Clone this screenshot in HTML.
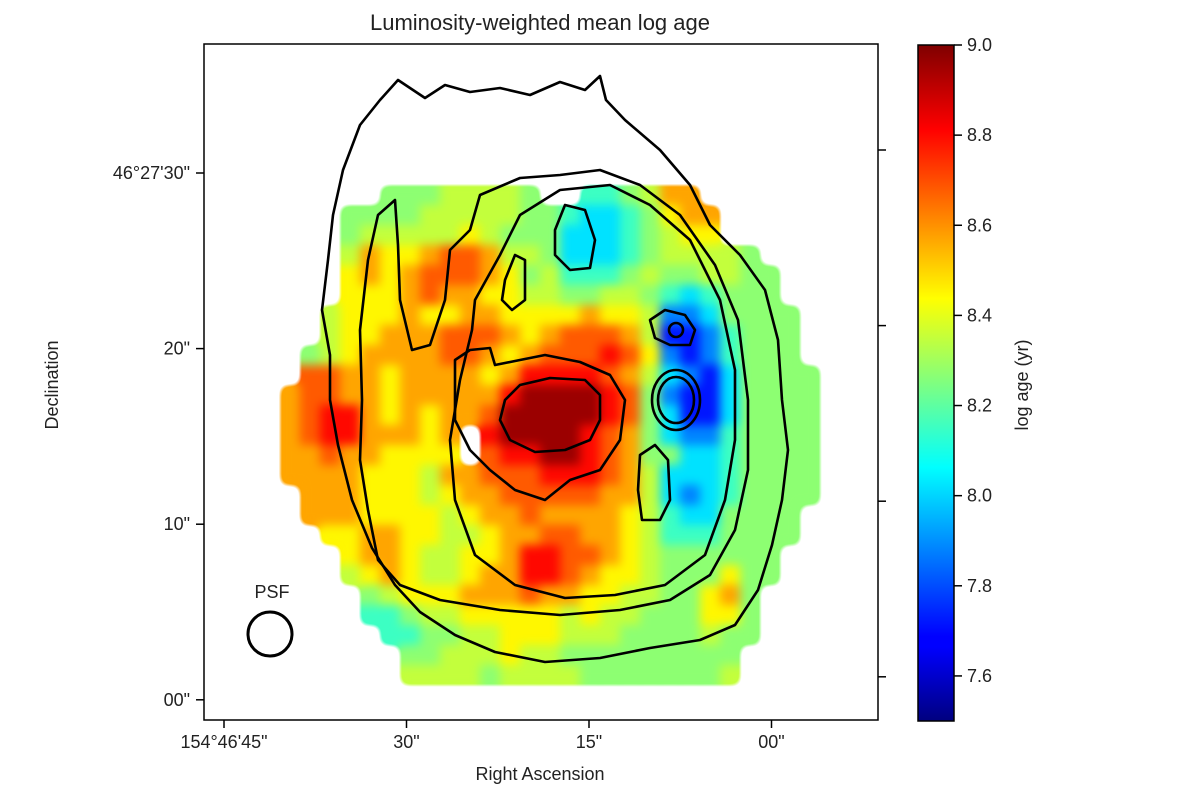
<!DOCTYPE html>
<html><head><meta charset="utf-8"><style>
html,body{margin:0;padding:0;background:#fff;}
svg text{font-family:"Liberation Sans",sans-serif;fill:#222;}
</style></head><body>
<svg id="chart" width="1200" height="799" viewBox="0 0 1200 799" xmlns="http://www.w3.org/2000/svg">
<defs>
<linearGradient id="jet" x1="0" y1="1" x2="0" y2="0">
<stop offset="0" stop-color="#00007f"/><stop offset="0.11" stop-color="#0000ff"/><stop offset="0.125" stop-color="#0000ff"/>
<stop offset="0.375" stop-color="#00ffff"/><stop offset="0.625" stop-color="#ffff00"/><stop offset="0.875" stop-color="#ff0000"/><stop offset="1" stop-color="#7f0000"/>
</linearGradient>
<filter id="smooth" x="-5%" y="-5%" width="110%" height="110%" color-interpolation-filters="sRGB">
<feGaussianBlur stdDeviation="5"/>
<feComponentTransfer><feFuncA type="linear" slope="4" intercept="-1.6"/></feComponentTransfer>
</filter>
</defs>
<g id="cells" filter="url(#smooth)"></g>
<g id="contours" fill="none" stroke="#000" stroke-width="2.6" stroke-linejoin="round">
<path d="M330,355 L322,310 L328,260 L333,215 L343,170 L360,125 L380,100 L398,80 L410,88 L425,98 L445,85 L470,92 L500,88 L530,95 L560,82 L585,90 L600,76 L606,100 L625,120 L660,150 L690,185 L710,225 L740,255 L765,290 L778,340 L782,400 L788,450 L782,500 L772,545 L758,590 L735,625 L700,640 L650,648 L600,658 L545,662 L495,652 L455,635 L420,612 L395,585 L372,548 L352,500 L338,445 L330,400 Z"/>
<path d="M368,260 L378,215 L395,200 L398,245 L400,300 L412,350 L430,345 L445,300 L450,250 L470,230 L480,195 L520,178 L560,175 L600,170 L640,185 L680,215 L715,265 L738,320 L748,400 L748,470 L735,530 L710,575 L670,600 L620,610 L560,615 L500,610 L440,600 L400,585 L378,560 L368,510 L360,460 L362,400 L360,330 Z"/>
<path d="M475,300 L500,255 L520,215 L560,190 L610,185 L650,205 L690,240 L720,300 L735,370 L735,440 L725,500 L705,555 L665,585 L615,595 L565,598 L515,585 L475,555 L455,500 L450,440 L460,380 L472,330 Z"/>
<path d="M455,360 L470,350 L490,348 L495,365 L520,360 L545,355 L580,362 L610,375 L625,400 L620,440 L600,470 L570,480 L545,500 L515,490 L490,470 L470,450 L455,420 Z"/>
<path d="M505,400 L520,385 L550,378 L585,380 L600,395 L600,420 L590,440 L565,450 L535,452 L510,440 L500,420 Z"/>
<path d="M650,320 L665,310 L685,315 L695,330 L690,345 L670,345 L655,338 Z"/>
<circle cx="676" cy="330" r="7"/>
<ellipse cx="676" cy="400" rx="24" ry="30"/>
<ellipse cx="676" cy="400" rx="18" ry="23"/>
<path d="M638,490 L640,455 L655,445 L668,460 L670,500 L660,520 L642,520 Z"/>
<path d="M555,230 L565,205 L585,210 L595,240 L590,268 L570,270 L555,255 Z"/>
<path d="M505,280 L515,255 L525,260 L525,300 L512,310 L502,300 Z"/>
</g>
<g>
<circle cx="270" cy="634" r="22" fill="none" stroke="#000" stroke-width="3"/>
<text x="272" y="598" font-size="18" text-anchor="middle">PSF</text>
</g>
<rect x="204" y="44" width="674" height="676" fill="none" stroke="#000" stroke-width="1.5"/>
<g id="axes"></g>
<text x="540" y="30" font-size="22" text-anchor="middle">Luminosity-weighted mean log age</text>
<text x="540" y="780" font-size="18" text-anchor="middle">Right Ascension</text>
<text x="0" y="0" font-size="18" text-anchor="middle" transform="translate(58,385) rotate(-90)">Declination</text>
<rect x="918" y="45" width="36" height="676" fill="url(#jet)" stroke="#000" stroke-width="1.5"/>
<g id="cbticks"></g>
<text x="0" y="0" font-size="18" text-anchor="middle" transform="translate(1028,385) rotate(-90)">log age (yr)</text>
</svg>
<script>
const levelKeys = "abcdefghijk";
const levelValues = [7.72,7.88,8.02,8.15,8.27,8.35,8.45,8.57,8.68,8.8,8.96];
const gridRows = [
".....eeeffffe..ddefhh......",
"...eeeefffffeedccdeghh.....",
"...efffffgfeeecccdefgg.....",
"...fhgghiihffecccdeffffe...",
"...ghghiiihgefdddefeeffee..",
"...ggghihhggffeeffedcdeee..",
"..fggghgghhgggghggfbbceeee.",
"..fgghhhiiihghiiihfaabdeee.",
".efghhhhiihghiiijigbabdeee.",
".iihhghhhhghjjjjihfcbaceeee",
"hiihhghhhhhjkkkkjiebaaceeee",
"hijjhghghhikkkkkjiecaaceeee",
"hijjhhhgh.jkkkkjihecbbdeeee",
"hhihhgggg.ijjkkjiheeccdeeee",
"hhhhgggfhhiiijjjihfcccdeeee",
".hhhgggfghhiiiiihhfcbcdeeee",
".hhhggggfghhihhhhgfdcceeee.",
"..gghhggffghhiihhgfdddeeee.",
"...ghhgffgghjjiihgfeeeeee..",
"...fghgffghhjjihggfeeegee..",
"....efggghhhihhggffeeghe...",
"....ddeffgggggfgffeeegge...",
".....ddeeffgggfffeeeefee...",
"......eefffgffeeeeeeeee....",
"......ffffeffffeeeeeeef...."
];
const xTickLabels = ['154°46\'45"','30"','15"','00"'];
const yTickLabels = ['46°27\'30"','20"','10"','00"'];
const cbTickValues = [7.6,7.8,8.0,8.2,8.4,8.6,8.8,9.0];

const NS="http://www.w3.org/2000/svg";
const gx0=280, gy0=185, cw=20, ch=20;
const colX = c => gx0 + c*cw;
const rowY = r => gy0 + r*ch;
const vmin=7.5, vmax=9.0;
const cbY = v => 721 - (v - vmin)/(vmax - vmin)*676;
function cl(x){return Math.max(0,Math.min(1,x));}
function jet(v){
  const t=(v-vmin)/(vmax-vmin);
  const r=cl(1.5-Math.abs(4*t-3)), g=cl(1.5-Math.abs(4*t-2)), b=cl(1.5-Math.abs(4*t-1));
  return `rgb(${Math.round(r*255)},${Math.round(g*255)},${Math.round(b*255)})`;
}
const cells=document.getElementById('cells');
gridRows.forEach((row,r)=>{
  for(let c=0;c<row.length;c++){
    const k=levelKeys.indexOf(row[c]);
    if(k<0) continue;
    const el=document.createElementNS(NS,'rect');
    
    
    el.setAttribute('x',colX(c));el.setAttribute('y',rowY(r));
    el.setAttribute('width',cw+0.6);el.setAttribute('height',ch+0.6);
    el.setAttribute('fill',jet(levelValues[k]));
    cells.appendChild(el);
  }
});
const axes=document.getElementById('axes');
function add(parent,tag,attrs,text){
  const el=document.createElementNS(NS,tag);
  for(const a in attrs) el.setAttribute(a,attrs[a]);
  if(text!==undefined) el.textContent=text;
  parent.appendChild(el);return el;
}
const xTickPos = i => 224 + i*182.5;
const yTickPos = i => 173 + i*175.6;
xTickLabels.forEach((lab,i)=>{
  const x=xTickPos(i);
  const t=add(axes,'line',{x1:x,x2:x,y1:720,y2:728,stroke:'#000','stroke-width':1.5});
  
  
  const tx=add(axes,'text',{x:x,y:748,'font-size':18,'text-anchor':'middle'},lab);
  
  
});
yTickLabels.forEach((lab,i)=>{
  const y=yTickPos(i);
  const t=add(axes,'line',{x1:196,x2:204,y1:y,y2:y,stroke:'#000','stroke-width':1.5});
  
  
  const tx=add(axes,'text',{x:190,y:y+6,'font-size':18,'text-anchor':'end'},lab);
  
  
  const rt=add(axes,'line',{x1:878,x2:886,y1:y-23,y2:y-23,stroke:'#000','stroke-width':1.5});
  
  
});
const cbt=document.getElementById('cbticks');
cbTickValues.forEach(v=>{
  const y=cbY(v);
  const t=add(cbt,'line',{x1:954,x2:962,y1:y,y2:y,stroke:'#000','stroke-width':1.5});
  
  
  const tx=add(cbt,'text',{x:967,y:y+6,'font-size':18},v.toFixed(1));
  
  
});
</script>
</body></html>
